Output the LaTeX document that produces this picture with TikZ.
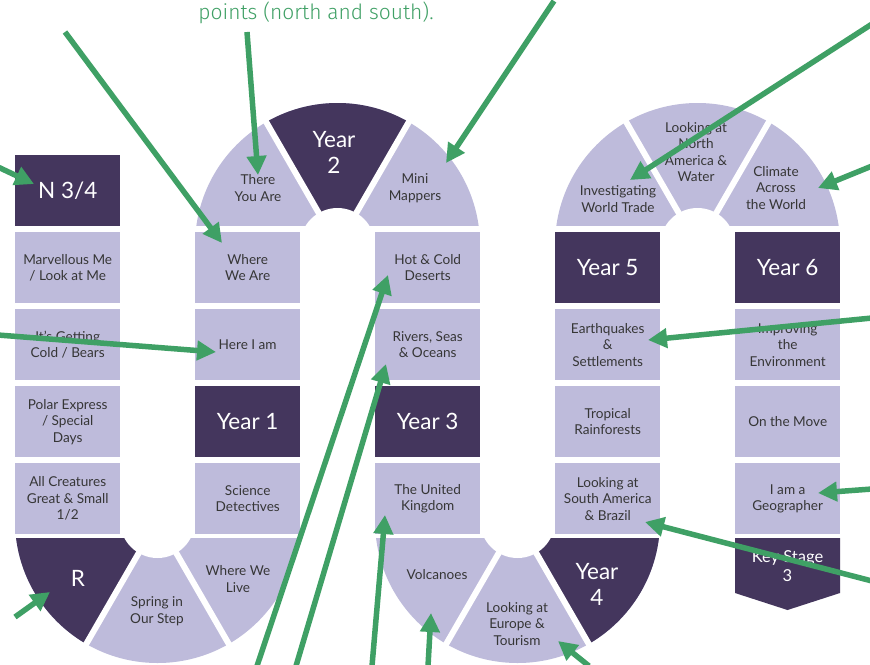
\documentclass[tikz,border=0pt]{standalone}
\usepackage{fontspec}
\setmainfont{Lato}
\newfontfamily\handfont{Fira Sans Light}
\usetikzlibrary{arrows.meta,calc}
\definecolor{plum}{HTML}{44365D}
\definecolor{lilac}{HTML}{BEBBDB}
\definecolor{leaf}{HTML}{3FA065}
\definecolor{ink}{HTML}{363636}

% one U-bend of the track: centre, clip band (y from/to), boundary angles
\newcommand\trackbend[5]{%
  \begin{scope}
    \clip (#2-150,#3) rectangle (#2+150,#4);
    \fill[lilac] (#1) circle[radius=142.5];
    #5
    \fill[white] (#1) circle[radius=37.5];
  \end{scope}}

\begin{document}
\begin{tikzpicture}[x=1pt,y=-1pt,
  tile/.style={minimum width=105pt, minimum height=71pt, inner sep=0pt,
    align=center, anchor=north west},
  lighttile/.style={tile, fill=lilac, text=ink, font=\fontsize{13.6}{16.5}\selectfont},
  darktile/.style={tile, fill=plum, text=white, font=\fontsize{22.5}{26}\selectfont},
  lbl/.style={align=center, text=ink, inner sep=0pt, font=\fontsize{13.6}{16.5}\selectfont},
  dlbl/.style={align=center, text=white, inner sep=0pt, font=\fontsize{22.5}{26}\selectfont},
  gapline/.style={white, line width=6pt},
  pointer/.style={draw=leaf, line width=5.5pt, -{Triangle[length=19pt,width=19pt]}},
]
\fill[white] (0,0) rectangle (870,664);
\useasboundingbox (0,0) rectangle (870,664);

% ---------- bend centres ----------
\coordinate (bendA) at (157.5,520.5);
\coordinate (bendB) at (337.5,245.5);
\coordinate (bendC) at (517.5,520.5);
\coordinate (bendD) at (697.5,245.5);

% bottom bend, Reception
\trackbend{bendA}{157.5}{538}{670}{%
  \begin{scope}
    \clip (bendA) circle[radius=142.5];
    \fill[plum] (bendA) -- ($(bendA)+(180:200pt)$) -- ($(bendA)+(210:200pt)$) -- ($(bendA)+(240:200pt)$) -- cycle;
  \end{scope}
  \draw[gapline] (bendA) -- ++(240:150pt) (bendA) -- ++(300:150pt);}

% top bend, Year 2
\trackbend{bendB}{337.5}{95}{225.5}{%
  \begin{scope}
    \clip (bendB) circle[radius=142.5];
    \fill[plum] (bendB) -- ($(bendB)+(60:200pt)$) -- ($(bendB)+(90:200pt)$) -- ($(bendB)+(120:200pt)$) -- cycle;
  \end{scope}
  \draw[gapline] (bendB) -- ++(60:150pt) (bendB) -- ++(120:150pt);}

% bottom bend, Year 4
\trackbend{bendC}{517.5}{538}{670}{%
  \begin{scope}
    \clip (bendC) circle[radius=142.5];
    \fill[plum] (bendC) -- ($(bendC)+(300:200pt)$) -- ($(bendC)+(330:200pt)$) -- ($(bendC)+(360:200pt)$) -- cycle;
  \end{scope}
  \draw[gapline] (bendC) -- ++(240:150pt) (bendC) -- ++(300:150pt);}

% top bend, upper key stage 2
\trackbend{bendD}{697.5}{95}{225.5}{%
  \draw[gapline] (bendD) -- ++(60:150pt) (bendD) -- ++(120:150pt);}

% ---------- bend labels ----------
\node[dlbl] (rec) at (78,578) {R};
\node[lbl] (spring) at (157,611) {Spring in\\Our Step};
\node[lbl] (wwlive) at (238,579) {Where We\\Live};
\node[lbl] (thereyou) at (258,188) {There\\You Are};
\node[dlbl] (y2) at (334,152) {Year\\2};
\node[lbl] (minimap) at (415,188) {Mini\\Mappers};
\node[lbl] (volc) at (437,575) {Volcanoes};
\node[lbl] (europe) at (517,624) {Looking at\\Europe \&\\Tourism};
\node[dlbl] (y4) at (597,584) {Year\\4};
\node[lbl] (trade) at (618,199) {Investigating\\World Trade};
\node[lbl] (namerica) at (696,152) {Looking at\\North\\America \&\\Water};
\node[lbl] (climate) at (776,188) {Climate\\Across\\the World};

% ---------- column 1 ----------
\node[darktile] (n34) at (15,155) {N 3/4};
\node[lighttile] (marv) at (15,232) {Marvellous Me\\/ Look at Me};
\node[lighttile] (cold) at (15,309) {It's Getting\\Cold / Bears};
\node[lighttile] (polar) at (15,386) {Polar Express\\/ Special\\Days};
\node[lighttile] (creatures) at (15,463) {All Creatures\\Great \& Small\\1/2};
% ---------- column 2 ----------
\node[lighttile] (wware) at (195,232) {Where\\We Are};
\node[lighttile] (herei) at (195,309) {Here I am};
\node[darktile] (y1) at (195,386) {Year 1};
\node[lighttile] (science) at (195,463) {Science\\Detectives};
% ---------- column 3 ----------
\node[lighttile] (deserts) at (375,232) {Hot \& Cold\\Deserts};
\node[lighttile] (rivers) at (375,309) {Rivers, Seas\\\& Oceans};
\node[darktile] (y3) at (375,386) {Year 3};
\node[lighttile] (uk) at (375,463) {The United\\Kingdom};
% ---------- column 4 ----------
\node[darktile] (y5) at (555,232) {Year 5};
\node[lighttile] (quakes) at (555,309) {Earthquakes\\\&\\Settlements};
\node[lighttile] (rainf) at (555,386) {Tropical\\Rainforests};
\node[lighttile] (samerica) at (555,463) {Looking at\\South America\\\& Brazil};
% ---------- column 5 ----------
\node[darktile] (y6) at (735,232) {Year 6};
\node[lighttile] (improve) at (735,309) {Improving\\the\\Environment};
\node[lighttile] (move) at (735,386) {On the Move};
\node[lighttile] (geog) at (735,463) {I am a\\Geographer};
% key stage 3 flag
\fill[plum] (735,538) -- (840,538) -- (840,593) -- (787.5,610) -- (735,593) -- cycle;
\node[dlbl, font=\fontsize{16.5}{19}\selectfont] (ks3) at (787.5,566) {Key Stage\\3};

% ---------- note text ----------
\node[anchor=base, inner sep=0pt, text=leaf, font=\handfont\fontsize{21}{24}\selectfont] (note) at (316,19) {points (north and south).};

% ---------- pointer ends ----------
\coordinate (s1) at (-2,167);   \coordinate (e1) at (34,184);
\coordinate (s2) at (65,32);    \coordinate (e2) at (222,243);
\coordinate (s3) at (247,32);   \coordinate (e3) at (258,175);
\coordinate (s4) at (554,1);    \coordinate (e4) at (446,163);
\coordinate (s5) at (872,24);   \coordinate (e5) at (630,180);
\coordinate (s6) at (872,166);  \coordinate (e6) at (818,188);
\coordinate (s7) at (-2,335);   \coordinate (e7) at (216,352);
\coordinate (s8) at (872,318);  \coordinate (e8) at (648,340);
\coordinate (s9) at (872,489);  \coordinate (e9) at (818,493);
\coordinate (s10) at (872,581); \coordinate (e10) at (645,522);
\coordinate (s11) at (257,666); \coordinate (e11) at (388,275);
\coordinate (s12) at (296,666); \coordinate (e12) at (386,364);
\coordinate (s13) at (372,666); \coordinate (e13) at (385,515);
\coordinate (s14) at (428,666); \coordinate (e14) at (431,613);
\coordinate (s15) at (589,666); \coordinate (e15) at (558,641);
\coordinate (s16) at (15,617);  \coordinate (e16) at (50,592);

\foreach \k in {1,...,16} \draw[pointer] (s\k) -- (e\k);
\end{tikzpicture}
\end{document}
